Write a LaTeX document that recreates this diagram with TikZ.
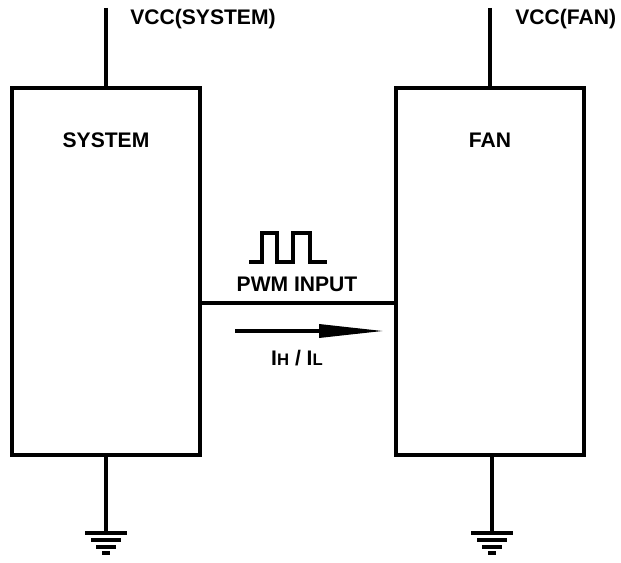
\documentclass[tikz,border=0pt]{standalone}
\usepackage{fontspec}
\setmainfont{Liberation Sans}
\usepackage{tikz}
\usetikzlibrary{positioning,arrows.meta,calc}
\tikzset{
  node-box/.style={draw,line width=2pt,minimum width=3.76cm,minimum height=7.34cm,inner sep=0pt},
  node-label/.style={font=\bfseries\fontsize{12}{14}\selectfont,inner sep=0pt},
  wire/.style={line width=2pt},
  arrow-current/.style={-{Triangle[length=1.3cm,width=0.26cm]},line width=2pt},
  gnd/.pic={
    \draw[line width=2pt] (-21,0) -- (21,0);
    \draw[line width=2pt] (-15,7) -- (15,7);
    \draw[line width=2pt] (-10,14) -- (10,14);
    \draw[line width=2.4pt] (-4,20) -- (4,20);
  },
}
\begin{document}
\begin{tikzpicture}[x=0.02cm,y=-0.02cm]
  \useasboundingbox[fill=white] (0,0) rectangle (621,563);
  % blocks
  \node[node-box] (sys) at (106,271.5) {};
  \node[node-box] (fan) at (490,271.5) {};
  \node[node-label] (syslbl) at (106,140) {SYSTEM};
  \node[node-label] (fanlbl) at (490,140) {FAN};
  % supplies
  \coordinate (vccsys) at (106,8);
  \coordinate (vccfan) at (490,8);
  \draw[wire] (vccsys) -- (sys.north);
  \draw[wire] (vccfan) -- (fan.north);
  \node[node-label,anchor=west] (vccsyslbl) at (130,19) {VCC(SYSTEM)};
  \node[node-label,anchor=west] (vccfanlbl) at (515,19) {VCC(FAN)};
  % grounds
  \coordinate (gndsys) at (106,533);
  \coordinate (gndfan) at (492,533);
  \draw[wire] (sys.south) -- (gndsys);
  \draw[wire] (fan.south -| gndfan) -- (gndfan);
  \pic at (gndsys) {gnd};
  \pic at (gndfan) {gnd};
  % pwm line
  \coordinate (pwmy) at (0,303);
  \draw[wire] (sys.east |- pwmy) -- (fan.west |- pwmy);
  \draw[line width=2pt] (249,262) -- (262,262) -- (262,233) -- (277,233) -- (277,262)
    -- (293,262) -- (293,233) -- (310,233) -- (310,262) -- (327,262);
  \node[node-label] (pwmlbl) at (297,284) {PWM INPUT};
  % current
  \coordinate (ia) at (235,331);
  \coordinate (ib) at (384,331);
  \draw[arrow-current] (ia) -- (ib);
  \node[node-label] (ilbl) at (297,358) {I{\fontsize{9.5}{9.5}\selectfont H} / I{\fontsize{9.5}{9.5}\selectfont L}};
\end{tikzpicture}
\end{document}
